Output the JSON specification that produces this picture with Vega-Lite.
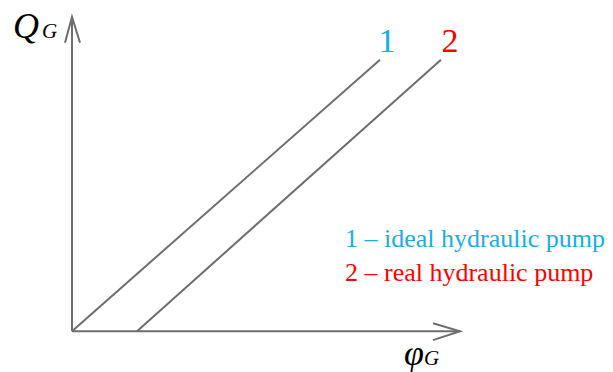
{
  "$schema": "https://vega.github.io/schema/vega-lite/v6.json",
  "width": 613,
  "height": 372,
  "autosize": {"type": "fit", "contains": "padding"},
  "padding": 0,
  "background": "white",
  "config": {"view": {"stroke": null}},
  "datasets": {
    "segs": [
      {"seg": "yaxis", "ord": 0, "x": 0, "y": 0},
      {"seg": "yaxis", "ord": 1, "x": 0, "y": 316},
      {"seg": "yarrow", "ord": 0, "x": -7, "y": 290},
      {"seg": "yarrow", "ord": 1, "x": 0, "y": 316},
      {"seg": "yarrow", "ord": 2, "x": 8, "y": 290},
      {"seg": "xaxis", "ord": 0, "x": 0, "y": 0},
      {"seg": "xaxis", "ord": 1, "x": 388, "y": 0},
      {"seg": "xarrow", "ord": 0, "x": 361, "y": 8},
      {"seg": "xarrow", "ord": 1, "x": 388, "y": 0},
      {"seg": "xarrow", "ord": 2, "x": 361, "y": -9},
      {"seg": "line1", "ord": 0, "x": 0, "y": 0},
      {"seg": "line1", "ord": 1, "x": 308, "y": 273},
      {"seg": "line2", "ord": 0, "x": 65, "y": 0},
      {"seg": "line2", "ord": 1, "x": 369, "y": 273}
    ],
    "texts": [
      {"series": "1", "kind": "num", "label": "1", "x": 315, "y": 281},
      {"series": "2", "kind": "num", "label": "2", "x": 378, "y": 281},
      {"series": "1", "kind": "legend", "label": "1 – ideal hydraulic pump", "x": 273, "y": 85},
      {"series": "2", "kind": "legend", "label": "2 – real hydraulic pump", "x": 273, "y": 50}
    ],
    "symbols": [
      {"label": "Q", "x": -59, "y": 295},
      {"label": "φ", "x": 332, "y": -34}
    ],
    "subs": [
      {"label": "G", "x": -30, "y": 295},
      {"label": "G", "x": 352, "y": -34}
    ]
  },
  "layer": [
    {
      "data": {"name": "segs"},
      "mark": {"type": "line", "color": "#6e6e6e", "strokeWidth": 2},
      "encoding": {
        "x": {"field": "x", "type": "quantitative", "scale": {"domain": [-72, 541], "nice": false, "zero": false}, "axis": null},
        "y": {"field": "y", "type": "quantitative", "scale": {"domain": [-39, 333], "nice": false, "zero": false}, "axis": null},
        "detail": {"field": "seg"},
        "order": {"field": "ord"}
      }
    },
    {
      "data": {"name": "texts"},
      "transform": [{"filter": "datum.kind == 'num' && datum.series == '1'"}],
      "mark": {"type": "text", "font": "Liberation Serif", "fontSize": 34, "align": "center", "baseline": "alphabetic", "color": "#17aee8"},
      "encoding": {
        "x": {"field": "x", "type": "quantitative"},
        "y": {"field": "y", "type": "quantitative"},
        "text": {"field": "label"}
      }
    },
    {
      "data": {"name": "texts"},
      "transform": [{"filter": "datum.kind == 'num' && datum.series == '2'"}],
      "mark": {"type": "text", "font": "Liberation Serif", "fontSize": 34, "align": "center", "baseline": "alphabetic", "color": "#ff0000"},
      "encoding": {
        "x": {"field": "x", "type": "quantitative"},
        "y": {"field": "y", "type": "quantitative"},
        "text": {"field": "label"}
      }
    },
    {
      "data": {"name": "texts"},
      "transform": [{"filter": "datum.kind == 'legend' && datum.series == '1'"}],
      "mark": {"type": "text", "font": "Liberation Serif", "fontSize": 26, "align": "left", "baseline": "alphabetic", "color": "#17aee8"},
      "encoding": {
        "x": {"field": "x", "type": "quantitative"},
        "y": {"field": "y", "type": "quantitative"},
        "text": {"field": "label"}
      }
    },
    {
      "data": {"name": "texts"},
      "transform": [{"filter": "datum.kind == 'legend' && datum.series == '2'"}],
      "mark": {"type": "text", "font": "Liberation Serif", "fontSize": 26, "align": "left", "baseline": "alphabetic", "color": "#ff0000"},
      "encoding": {
        "x": {"field": "x", "type": "quantitative"},
        "y": {"field": "y", "type": "quantitative"},
        "text": {"field": "label"}
      }
    },
    {
      "data": {"name": "symbols"},
      "mark": {"type": "text", "font": "Liberation Serif", "fontStyle": "italic", "fontSize": 36, "align": "left", "baseline": "alphabetic", "color": "#000000"},
      "encoding": {
        "x": {"field": "x", "type": "quantitative"},
        "y": {"field": "y", "type": "quantitative"},
        "text": {"field": "label"}
      }
    },
    {
      "data": {"name": "subs"},
      "mark": {"type": "text", "font": "Liberation Serif", "fontStyle": "italic", "fontSize": 21, "align": "left", "baseline": "alphabetic", "color": "#000000"},
      "encoding": {
        "x": {"field": "x", "type": "quantitative"},
        "y": {"field": "y", "type": "quantitative"},
        "text": {"field": "label"}
      }
    }
  ]
}
